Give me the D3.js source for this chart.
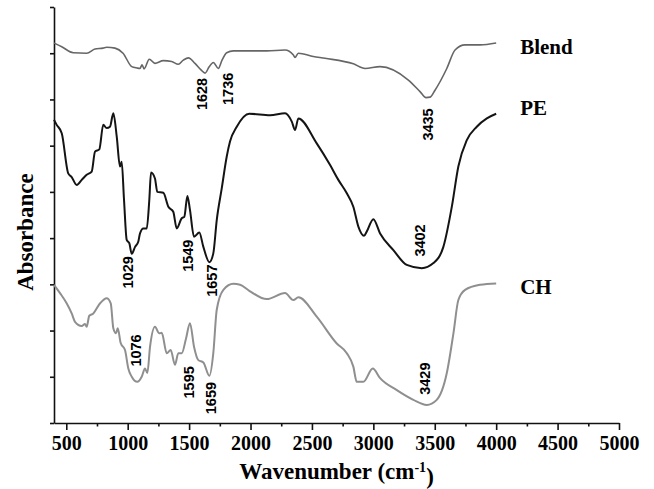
<!DOCTYPE html>
<html>
  <head>
    <meta charset="utf-8">
    <title>FTIR spectra</title>
    <script src="https://d3js.org/d3.v7.min.js"></script>
    <style>
      body { margin: 0; background: white; }
      svg { background-color: white; display: block; }
      .axis-title, .tick-label, .series-label {
        font-family: "Liberation Serif", "Times New Roman", serif;
        font-weight: bold;
        fill: black;
      }
      .peak-label {
        font-family: "Liberation Sans", Arial, sans-serif;
        font-weight: bold;
        font-size: 14.5px;
        fill: black;
      }
      .spectrum { fill: none; stroke-linejoin: round; }
    </style>
  </head>
  <body>
    <svg></svg>
    <script>
      //begin: data (wavenumber in cm-1, absorbance in stacked arbitrary units)
      var blendWn = [400,463,557,666,734,799,829,897,962,1033,1076,1100,1117,1133,1176,1222,1290,1358,1412,1453,1494,1548,1597,1630,1662,1697,1738,1768,1806,1860,2132,2281,2349,2362,2389,2511,2607,2837,2932,3055,3285,3380,3429,3462,3502,3598,3665,3747,3869,4000];
      var blendAbs = [8.22,8.14,8.01,8.00,8.09,8.11,8.13,8.11,8.00,7.71,7.68,7.67,7.75,7.66,7.87,7.78,7.84,7.82,7.76,7.85,7.90,7.78,7.64,7.57,7.70,7.80,7.67,7.85,8.01,8.05,8.05,8.07,7.96,7.91,8.00,7.93,7.89,7.77,7.67,7.71,7.42,7.17,7.04,7.05,7.20,7.67,8.07,8.18,8.18,8.22];

      var peWn = [400,422,463,516,544,585,626,666,707,734,769,801,829,856,883,911,937,951,970,992,1013,1033,1060,1086,1100,1127,1155,1176,1190,1222,1241,1290,1331,1371,1399,1440,1461,1486,1507,1540,1583,1616,1665,1697,1725,1766,1806,1833,1888,1990,2159,2281,2336,2363,2389,2539,2648,2715,2784,2837,2878,2924,2946,3000,3055,3163,3272,3394,3489,3570,3639,3692,3761,3842,3924,4000];
      var peAbs = [6.56,6.45,6.27,5.40,5.32,5.15,5.26,5.37,5.44,5.87,5.92,6.45,6.38,6.41,6.70,6.19,5.55,5.65,4.83,3.96,3.89,3.66,3.81,3.92,4.10,4.21,4.21,4.83,5.42,5.29,5.00,4.98,4.68,4.57,4.21,4.43,4.46,4.91,4.61,4.03,4.12,3.81,3.48,3.67,4.39,5.08,5.76,6.09,6.41,6.69,6.66,6.70,6.52,6.34,6.59,6.05,5.58,5.26,4.97,4.68,4.25,4.05,4.14,4.41,4.10,3.74,3.42,3.35,3.46,3.81,4.68,5.55,6.12,6.41,6.59,6.69];

      var chWn = [400,449,503,544,571,626,652,666,687,720,775,829,862,883,905,919,943,978,1005,1033,1078,1114,1141,1160,1182,1222,1257,1277,1318,1350,1385,1412,1440,1475,1507,1540,1575,1616,1665,1697,1725,1779,1860,1915,1990,2132,2281,2349,2389,2539,2702,2784,2837,2865,2919,2995,3055,3191,3326,3435,3516,3598,3652,3692,3747,3869,4000];
      var chAbs = [2.99,2.81,2.59,2.37,2.19,2.10,2.14,2.08,2.32,2.37,2.59,2.70,2.59,2.05,1.94,2.05,1.73,1.58,1.18,1.00,0.89,1.00,1.18,1.08,1.65,2.08,1.94,1.95,1.51,1.58,1.26,1.51,1.51,1.83,2.16,1.65,1.36,1.31,1.02,1.51,2.45,2.88,3.01,2.99,2.86,2.68,2.81,2.66,2.72,2.30,1.72,1.51,1.22,0.89,0.89,1.18,0.97,0.71,0.50,0.39,0.50,1.08,1.94,2.66,2.88,2.99,3.02];

      var seriesNames = ["Blend", "PE", "CH"];

      // peak annotations: text, wavenumber where the label sits, level of its lower end
      var peakText  = ["1628","1736","3435","1029","1549","1657","3402","1076","1595","1659","3429"];
      var peakAt    = [1648, 1855, 3484, 1046, 1529, 1725, 3421, 1106, 1540, 1719, 3462];
      var peakLevel = [6.77, 6.88, 6.11, 2.91, 3.27, 2.73, 3.60, 1.22, 0.53, 0.19, 0.61];

      var xTicks = [500,1000,1500,2000,2500,3000,3500,4000,4500,5000];
      var xMinorTicks = [750,1250,1750,2250,2750,3250,3750,4250,4750];
      var yTicks = [0,1,2,3,4,5,6,7,8,9];
      //end: data

      //begin: layout config.
      var svgWidth = 654,
          svgHeight = 489,
          margin = {top: 7, right: 35, bottom: 66, left: 54},
          width = svgWidth - margin.left - margin.right,
          height = svgHeight - margin.top - margin.bottom;
      //end: layout config.

      var x = d3.scaleLinear().domain([400, 5000]).range([0, width]);
      var y = d3.scaleLinear().domain([0, 9]).range([height, 0]);

      var svg = d3.select("svg")
        .attr("width", svgWidth)
        .attr("height", svgHeight);

      var g = svg.append("g")
        .attr("transform", "translate(" + [margin.left, margin.top] + ")");

      // axes
      var xAxis = g.append("g")
        .attr("transform", "translate(0," + height + ")")
        .call(d3.axisBottom(x).tickValues(xTicks).tickSize(7).tickSizeOuter(0).tickFormat(d3.format("d")));
      g.append("g")
        .attr("transform", "translate(0," + height + ")")
        .call(d3.axisBottom(x).tickValues(xMinorTicks).tickSize(3.5).tickSizeOuter(0).tickFormat(""))
        .select(".domain").remove();
      var yAxis = g.append("g")
        .call(d3.axisLeft(y).tickValues(yTicks).tickSize(4).tickSizeOuter(0).tickFormat(""));

      g.selectAll(".domain, .tick line").attr("stroke", "#111").attr("stroke-width", 1.6);

      xAxis.selectAll("text")
        .attr("class", "tick-label")
        .attr("font-size", "20px")
        .attr("y", 13)
        .attr("dy", "0.71em");

      // axis titles
      var xTitle = g.append("text")
        .attr("class", "axis-title")
        .attr("x", width / 2)
        .attr("y", height + 56)
        .attr("text-anchor", "middle")
        .attr("font-size", "23px");
      xTitle.append("tspan").text("Wavenumber (cm");
      xTitle.append("tspan").attr("dy", "-0.5em").attr("font-size", "14px").text("-1");
      xTitle.append("tspan").attr("dy", "0.5em").text(")");

      g.append("text")
        .attr("class", "axis-title")
        .attr("transform", "translate(" + [-21, 225] + ") rotate(-90)")
        .attr("text-anchor", "middle")
        .attr("font-size", "23px")
        .text("Absorbance");

      // spectra
      var series = [
        {name: seriesNames[0], wn: blendWn, abs: blendAbs, color: "#666666", w: 1.6, dy: 10.5},
        {name: seriesNames[1], wn: peWn, abs: peAbs, color: "#141414", w: 2, dy: 1},
        {name: seriesNames[2], wn: chWn, abs: chAbs, color: "#8f8f8f", w: 2, dy: 10.5}
      ];

      var line = d3.line()
        .x(function(d) { return x(d[0]); })
        .y(function(d) { return y(d[1]); })
        .curve(d3.curveMonotoneX);

      series.forEach(function(s) {
        var pts = d3.zip(s.wn, s.abs);
        g.append("path")
          .classed("spectrum", true)
          .attr("d", line(pts))
          .attr("stroke", s.color)
          .attr("stroke-width", s.w);

        var last = pts[pts.length - 1];
        g.append("text")
          .attr("class", "series-label")
          .attr("x", x(last[0]) + 24)
          .attr("y", y(last[1]) + s.dy)
          .attr("font-size", "21px")
          .text(s.name);
      });

      // peak annotations
      peakText.forEach(function(t, i) {
        g.append("text")
          .attr("class", "peak-label")
          .attr("transform", "translate(" + [x(peakAt[i]), y(peakLevel[i])] + ") rotate(-90)")
          .text(t);
      });
    </script>
  </body>
</html>
